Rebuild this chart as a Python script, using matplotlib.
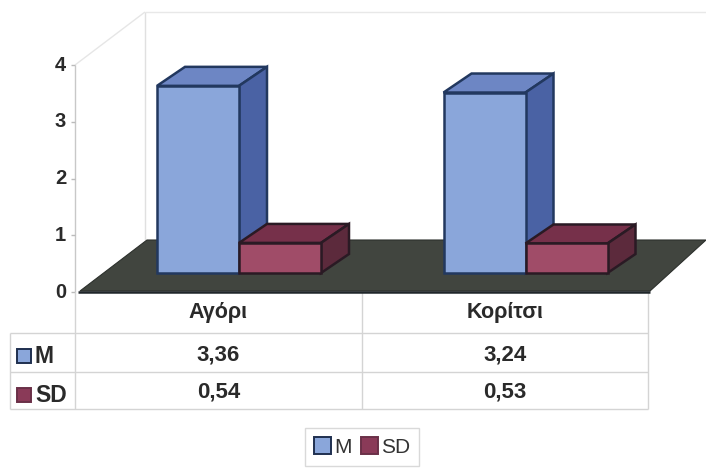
import matplotlib
matplotlib.use("Agg")
import matplotlib.pyplot as plt
from matplotlib.patches import Polygon, Rectangle, Patch

categories = ["Αγόρι", "Κορίτσι"]
series_names = ["M", "SD"]
m_values = [3.36, 3.24]
sd_values = [0.54, 0.53]
y_ticks = [0, 1, 2, 3, 4]

plt.rcParams['font.family'] = ['Liberation Sans', 'DejaVu Sans']

W, H = 706, 469
# plot area in pixels, from the picture
LEFT, RIGHT, Y0, Y4 = 75, 648, 292, 65
PX_X = (RIGHT - LEFT) / len(categories)
PX_Y = (Y0 - Y4) / 4

fig = plt.figure(figsize=(W / 100, H / 100), dpi=100)
ax = fig.add_axes([LEFT / W, 1 - Y0 / H, (RIGHT - LEFT) / W, (Y0 - Y4) / H])
ax.set_xlim(0, len(categories))
ax.set_ylim(0, 4)
ax.axis('off')


def P(x, y):
    # pixel position -> data position
    return (x - LEFT) / PX_X, (Y0 - y) / PX_Y


def poly(points, **kw):
    ax.add_patch(Polygon([P(*p) for p in points], closed=True, clip_on=False, **kw))


def line(xs, ys, color='#d4d4d4', lw=1.0, z=1):
    pts = [P(x, y) for x, y in zip(xs, ys)]
    ax.plot([p[0] for p in pts], [p[1] for p in pts], color=color, lw=lw,
            clip_on=False, zorder=z, solid_capstyle='butt')


# walls
line([75, 75], [65, 292], '#c8c8c8')
line([75, 145], [65, 12], '#e6e6e6')
line([145, 145], [12, 240], '#e0e0e0')
line([145, 706], [12, 12], '#e8e8e8')

# floor
poly([(80, 291), (650, 291), (706, 240), (147, 240)], fc='#41453f', ec='#2c302c', lw=0.8, zorder=2)
line([78, 650], [292, 292], '#20262a', 1.8, 3)

# y axis labels
for t in y_ticks:
    line([71, 75], [Y0 - t * PX_Y] * 2, '#bbbbbb')
    ax.text(*P(66, Y0 - t * PX_Y), str(t), ha='right', va='center',
            fontsize=14.5, fontweight='bold', color='#2a2a2a')

BASE_Y = 273
BAR_W = 82
DX, DY = 28, 19
SCALE = 55.7


def bar3d(x, value, front, top, side, edge, z):
    y = BASE_Y - value * SCALE
    poly([(x, y), (x + BAR_W, y), (x + BAR_W, BASE_Y), (x, BASE_Y)],
         fc=front, ec=edge, lw=1.8, zorder=z + 1)
    poly([(x, y), (x + DX, y - DY), (x + BAR_W + DX, y - DY), (x + BAR_W, y)],
         fc=top, ec=edge, lw=1.8, zorder=z)
    poly([(x + BAR_W, y), (x + BAR_W + DX, y - DY), (x + BAR_W + DX, BASE_Y - DY), (x + BAR_W, BASE_Y)],
         fc=side, ec=edge, lw=1.8, zorder=z)


for i in range(len(categories)):
    x0 = LEFT + i * PX_X + 82
    # the red box sits in front of the blue one's side face
    bar3d(x0, m_values[i], '#8aa6da', '#6d86c4', '#4a62a4', '#22385f', 5)
    bar3d(x0 + BAR_W, sd_values[i], '#a04c68', '#76304a', '#5c2a3c', '#2a1a24', 7)

# data table
line([LEFT, LEFT], [292, 409])
line([362, 362], [292, 409])
line([RIGHT, RIGHT], [292, 409])
line([10, 10], [333, 409])
for yy in [333, 372, 409]:
    line([10, RIGHT], [yy, yy])

col_x = [LEFT + (i + 0.5) * PX_X for i in range(len(categories))]
for i, cat in enumerate(categories):
    ax.text(*P(col_x[i], 312), cat, ha='center', va='center', fontsize=15.5, fontweight='bold', color='#2a2a2a')
    ax.text(*P(col_x[i], 355), f"{m_values[i]:.2f}".replace('.', ','), ha='center', va='center',
            fontsize=16, fontweight='bold', color='#2a2a2a')
    ax.text(*P(col_x[i], 392), f"{sd_values[i]:.2f}".replace('.', ','), ha='center', va='center',
            fontsize=16, fontweight='bold', color='#2a2a2a')

for name, yy, fc, ec in [(series_names[0], 356, '#8aa6da', '#1f2f4f'),
                         (series_names[1], 395, '#8a3a58', '#6a3048')]:
    ax.add_patch(Rectangle(P(17, yy + 7), 14 / PX_X, 14 / PX_Y, fc=fc, ec=ec, lw=1.4, clip_on=False))
    ax.text(*P(35, yy), name, ha='left', va='center', fontsize=16.5, fontweight='bold', color='#2a2a2a')

# legend
handles = [Patch(fc='#8aa6da', ec='#1f2f4f', lw=1.4, label=series_names[0]),
           Patch(fc='#8a3a58', ec='#6a3048', lw=1.4, label=series_names[1])]
leg = fig.legend(handles=handles, ncol=2, loc='center', bbox_to_anchor=(362 / W, 1 - 447 / H),
                 fontsize=15, frameon=True, fancybox=False, edgecolor='#d0d0d0',
                 handlelength=0.8, handleheight=0.9, handletextpad=0.15, columnspacing=0.45,
                 borderpad=0.45, labelcolor='#333333')
leg.get_frame().set_linewidth(1.0)

fig.savefig("out.png", dpi=100, facecolor='white')
